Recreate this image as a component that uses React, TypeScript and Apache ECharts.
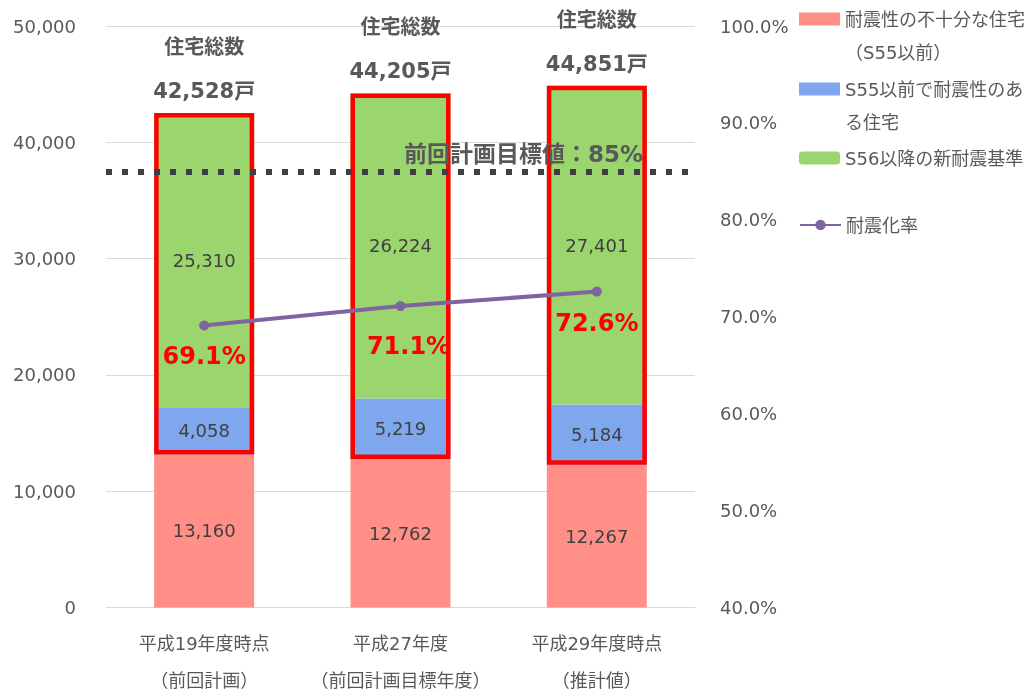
import React, { useEffect, useRef } from "react";
import * as echarts from "echarts";

const categories = [
  "平成19年度時点\n（前回計画）",
  "平成27年度\n（前回計画目標年度）",
  "平成29年度時点\n（推計値）",
];
const insufficient = [13160, 12762, 12267];
const pre55Resistant = [4058, 5219, 5184];
const post56 = [25310, 26224, 27401];
const totals = [42528, 44205, 44851];
const rate = [69.1, 71.1, 72.6];
const targetRate = 85;

const NAME_A = "耐震性の不十分な住宅（S55以前）";
const NAME_B = "S55以前で耐震性のある住宅";
const NAME_C = "S56以降の新耐震基準";
const NAME_D = "耐震化率";
const LEGEND_TEXT: Record<string, string> = {
  [NAME_A]: "耐震性の不十分な住宅\n（S55以前）",
  [NAME_B]: "S55以前で耐震性のあ\nる住宅",
  [NAME_C]: "S56以降の新耐震基準",
  [NAME_D]: "耐震化率",
};

const FONT = "'DejaVu Sans', 'Noto Sans CJK JP', sans-serif";
const GRAY = "#595959";
const DARK = "#404040";

const fmt = (v: number) => v.toLocaleString("en-US");

// legend swatch placed at the top of a taller icon box (tiny invisible anchor at the bottom)
const TALL_ICON = "path://M0,0h41v13h-41z M20,45.9h0.05v0.05h-0.05z";

export default function App() {
  const ref = useRef<HTMLDivElement>(null);
  useEffect(() => {
    if (!ref.current) return;
    const chart = echarts.init(ref.current, null, { renderer: "svg" });

    const legendItem = (name: string, top: number, twoLine: boolean) => ({
      data: twoLine ? [{ name, icon: TALL_ICON }] : [name],
      left: 799,
      top,
      padding: 0,
      itemWidth: 41,
      itemHeight: twoLine ? 46 : 13,
      itemGap: 5,
      formatter: (n: string) => LEGEND_TEXT[n],
      textStyle: {
        color: GRAY,
        fontSize: 18,
        fontFamily: FONT,
        lineHeight: 33,
      },
    });

    const segLabel = {
      show: true,
      position: "inside",
      color: DARK,
      fontSize: 18,
      fontFamily: FONT,
      formatter: (p: any) => fmt(p.value),
    };

    chart.setOption({
      animation: false,
      textStyle: { fontFamily: FONT },
      grid: {
        left: 106,
        right: 337,
        top: 26,
        bottom: 82.5,
        outerBoundsMode: "none",
        containLabel: false,
      },
      legend: [
        legendItem(NAME_A, 2.5, true),
        legendItem(NAME_B, 72.5, true),
        legendItem(NAME_C, 141.5, false),
        legendItem(NAME_D, 208.5, false),
      ],
      xAxis: {
        type: "category",
        data: categories,
        axisTick: { show: false },
        axisLine: { lineStyle: { color: "#d9d9d9", width: 1 } },
        axisLabel: {
          interval: 0,
          color: GRAY,
          fontSize: 18,
          lineHeight: 37,
          margin: 17,
          fontFamily: FONT,
        },
      },
      yAxis: [
        {
          type: "value",
          min: 0,
          max: 50000,
          interval: 10000,
          axisLine: { show: false },
          axisTick: { show: false },
          splitLine: { lineStyle: { color: "#d9d9d9", width: 1 } },
          axisLabel: {
            color: GRAY,
            fontSize: 18,
            margin: 30,
            fontFamily: FONT,
            formatter: (v: number) => fmt(v),
          },
        },
        {
          type: "value",
          min: 40,
          max: 100,
          interval: 10,
          axisLine: { show: false },
          axisTick: { show: false },
          splitLine: { show: false },
          axisLabel: {
            color: GRAY,
            fontSize: 18,
            margin: 25,
            fontFamily: FONT,
            formatter: (v: number) => v.toFixed(1) + "%",
          },
        },
      ],
      series: [
        {
          name: NAME_A,
          type: "bar",
          stack: "main",
          barWidth: 100,
          barGap: "-100%",
          data: insufficient,
          itemStyle: { color: "#FF8F87" },
          label: segLabel,
        },
        {
          name: NAME_B,
          type: "bar",
          stack: "main",
          barWidth: 100,
          barGap: "-100%",
          data: pre55Resistant,
          itemStyle: { color: "#7EA7EE" },
          label: segLabel,
        },
        {
          name: NAME_C,
          type: "bar",
          stack: "main",
          barWidth: 100,
          barGap: "-100%",
          data: post56,
          itemStyle: { color: "#9BD56E" },
          label: segLabel,
        },
        {
          name: "outlineBase",
          type: "bar",
          stack: "outline",
          barWidth: 100,
          barGap: "-100%",
          silent: true,
          data: insufficient,
          itemStyle: { color: "transparent" },
        },
        {
          name: "outline",
          type: "bar",
          stack: "outline",
          barWidth: 100,
          barGap: "-100%",
          silent: true,
          data: pre55Resistant.map((v, i) => v + post56[i]),
          itemStyle: {
            color: "transparent",
            borderColor: "#FF0000",
            borderWidth: 4.5,
          },
          label: {
            show: true,
            position: "top",
            distance: 10,
            formatter: (p: any) =>
              `{a|住宅総数}\n{b|${fmt(totals[p.dataIndex])}戸}`,
            rich: {
              a: {
                fontSize: 20,
                fontWeight: "bold",
                color: GRAY,
                lineHeight: 64,
                fontFamily: FONT,
              },
              b: {
                fontSize: 21,
                fontWeight: "bold",
                color: GRAY,
                lineHeight: 24,
                fontFamily: FONT,
              },
            },
          },
        },
        {
          name: NAME_D,
          type: "line",
          yAxisIndex: 1,
          data: rate.map((v, i) =>
            i === 1 ? { value: v, label: { offset: [8, 9] } } : v
          ),
          color: "#8064A2",
          lineStyle: { width: 4, color: "#8064A2" },
          symbol: "circle",
          symbolSize: 10,
          z: 5,
          label: {
            show: true,
            position: "bottom",
            distance: 14,
            color: "#FF0000",
            fontSize: 24,
            fontWeight: "bold",
            fontFamily: FONT,
            formatter: (p: any) => Number(p.value).toFixed(1) + "%",
          },
          markLine: {
            silent: true,
            symbol: "none",
            label: { show: false },
            lineStyle: { color: DARK, width: 6, type: [6, 10] },
            data: [{ yAxis: targetRate }],
          },
        },
      ],
    });

    const y85 = chart.convertToPixel({ yAxisIndex: 1 }, targetRate) as number;
    chart.setOption({
      graphic: [
        {
          type: "text",
          x: 643,
          y: y85 - 17,
          z: 100,
          style: {
            text: `前回計画目標値：${targetRate}%`,
            align: "right",
            verticalAlign: "middle",
            textAlign: "right",
            textVerticalAlign: "middle",
            fill: GRAY,
            fontSize: 23,
            fontWeight: "bold",
            fontFamily: FONT,
          },
        },
      ],
    });

    return () => chart.dispose();
  }, []);

  return (
    <div
      ref={ref}
      style={{ position: "fixed", left: 0, top: 0, width: 1032, height: 690 }}
    />
  );
}
